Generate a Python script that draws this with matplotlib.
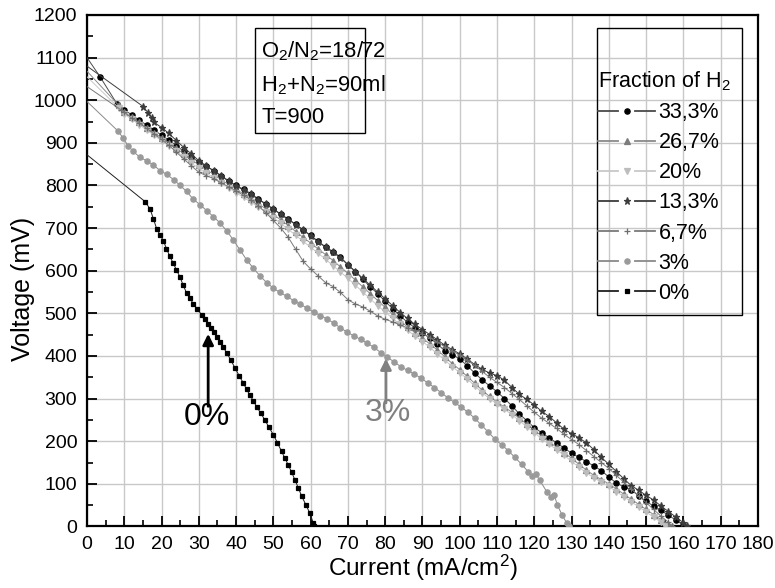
import matplotlib
matplotlib.use('Agg')
import matplotlib.pyplot as plt
from matplotlib.lines import Line2D
from matplotlib.patches import Rectangle
from matplotlib.ticker import MultipleLocator
from matplotlib.legend_handler import HandlerBase

plt.rcParams['font.family'] = 'Liberation Sans'
plt.rcParams['mathtext.fontset'] = 'custom'
plt.rcParams['mathtext.rm'] = 'Liberation Sans'
plt.rcParams['mathtext.it'] = 'Liberation Sans:italic'

# current density points shared by the H2-rich runs (mA/cm2)
i_grid = [10, 12, 14, 16, 18, 20, 22, 24, 26, 28, 30, 32, 34, 36, 38, 40, 42, 44, 46, 48,
          50, 52, 54, 56, 58, 60, 62, 64, 66, 68, 70, 72, 74, 76, 78, 80, 82, 84, 86, 88,
          90, 92, 94, 96, 98, 100, 102, 104, 106, 108, 110, 112, 114, 116, 118, 120, 122, 124, 126, 128,
          130, 132, 134, 136, 138, 140, 142, 144, 146, 148, 150, 152, 154, 156, 158, 160]

# 33,3 % H2
i_333 = [0, 3.5, 8] + i_grid
v_333 = [1100, 1055, 992,
         977, 966, 953, 942, 930, 918, 906, 893, 880, 867, 855, 845, 835, 823, 811, 800, 791, 781, 768, 757,
         745, 733, 721, 709, 696, 683, 669, 656, 645, 632, 614, 598, 580, 562, 546, 528, 511, 494, 479, 466,
         454, 442, 428, 412, 403, 393, 377, 360, 344, 330, 316, 300, 283, 264, 248, 232, 220, 208, 196, 184,
         172, 162, 152, 142, 131, 116, 102, 93, 86, 72, 59, 48, 38, 26, 15, 3]

# 26,7 % H2
i_267 = [0, 8.5] + i_grid[:74] + [157]
v_267 = [1068, 988,
         972, 960, 948, 936, 924, 912, 900, 887, 874, 861,
         848, 837, 826, 814, 802, 791, 780, 769, 757, 745,
         732, 719, 706, 692, 678, 665, 651, 638, 624, 609,
         594, 578, 562, 546, 530, 514, 498, 483, 468, 455,
         442, 428, 414, 398, 382, 368, 352, 336, 320, 305,
         292, 280, 268, 254, 240, 226, 212, 198, 186, 173,
         160, 146, 132, 120, 110, 100, 88, 76, 64, 52,
         40, 28, 16, 5, 0]

# 20 % H2
i_20 = [0, 8.5] + i_grid[:73] + [155]
v_20 = [1055, 982,
        968, 955, 943, 930, 918, 905, 893, 880, 867, 853,
        840, 829, 818, 806, 794, 783, 772, 761, 749, 737,
        724, 711, 697, 683, 669, 655, 641, 627, 612, 597,
        582, 566, 550, 534, 518, 503, 488, 474, 460, 447,
        434, 420, 405, 390, 375, 361, 346, 330, 314, 300,
        287, 275, 262, 248, 234, 220, 206, 193, 180, 167,
        153, 139, 126, 114, 104, 94, 82, 70, 58, 46,
        34, 22, 10, 0]

# 13,3 % H2
i_133 = [0, 15.1, 16.4, 17.5] + i_grid[4:] + [161]
v_133 = [1080, 985, 970, 958,
         948, 936, 922, 905, 889, 874, 858, 846, 834, 822, 810, 799, 789, 779, 767, 756,
         744, 732, 720, 708, 695, 682, 668, 655, 643, 630, 614, 598, 582, 566, 550, 534,
         518, 502, 488, 474, 462, 450, 438, 425, 415, 405, 393, 380, 369, 360, 354, 343,
         326, 310, 298, 285, 270, 258, 243, 228, 218, 208, 196, 180, 162, 146, 129, 112,
         96, 85, 73, 62, 48, 35, 22, 9, 0]

# 6,7 % H2
i_67 = [0, 9] + i_grid[:74] + [157]
v_67 = [1032, 978,
        972, 958, 946, 934, 921, 908, 894, 878, 862, 846,
        831, 823, 816, 806, 797, 787, 777, 766, 752, 736,
        718, 700, 678, 650, 622, 604, 588, 572, 563, 549,
        532, 522, 515, 505, 494, 486, 480, 473, 466, 461,
        452, 443, 432, 422, 412, 402, 390, 378, 364, 350,
        338, 326, 312, 298, 283, 268, 254, 242, 230, 216,
        204, 192, 178, 164, 150, 136, 120, 104, 88, 72,
        56, 40, 24, 10, 0]

# 3 % H2
i_3 = [0, 8.4, 9.7, 11.1, 12.4, 14.2, 16, 17.8, 19.6, 21.4, 23.2, 25, 26.7, 28.5, 30.3,
       32.1, 33.9, 35.7, 37.5, 39.2, 41, 42.8, 44.6, 46.4, 48.2, 50, 51.8, 53.6, 55.4, 57.2,
       59, 60.8, 62.6, 64.4, 66.2, 68, 69.8, 71.6, 73.4, 75.2, 77, 78.8, 80.6, 82.4, 84.2,
       86, 87.8, 89.6, 91.4, 93.2, 95, 96.8, 98.6, 100.4, 102.2, 104, 105.8, 107.6, 109.4, 111.2,
       113, 114.8, 116.6, 118.4, 119.5, 120.5, 121.5, 123.3, 124.5, 125.3, 126.2, 127.4, 128.7, 129.3]
v_3 = [997, 927, 911, 892, 880, 866, 858, 848, 835, 826, 814, 800, 786, 768, 755,
       741, 727, 712, 693, 673, 649, 626, 606, 588, 572, 559, 549, 540, 530, 522,
       512, 503, 495, 487, 477, 466, 456, 447, 439, 430, 420, 408, 397, 386, 375,
       366, 358, 348, 337, 326, 314, 302, 291, 280, 268, 254, 238, 222, 205, 192,
       178, 162, 146, 128, 118, 122, 108, 82, 70, 75, 50, 28, 8, 0]

# 0 % H2
i_0 = [0, 15.6, 16.9, 17.8, 18.7, 19.6, 20.5, 21.3, 22.2, 23.1, 24, 24.9, 25.8, 26.7, 27.6,
       28.5, 29.6, 30.8, 31.7, 32.5, 33.3, 34.1, 34.9, 35.7, 36.6, 37.5, 38.6, 39.7, 40.8, 41.9,
       42.8, 43.7, 44.6, 45.5, 46.6, 47.7, 48.8, 50, 51.1, 52.2, 53.1, 54, 54.9, 55.8, 56.7,
       57.6, 58.7, 59.8, 60.7, 61]
v_0 = [872, 762, 745, 722, 698, 684, 670, 652, 634, 618, 602, 586, 566, 548, 535,
       523, 510, 496, 486, 476, 466, 456, 445, 434, 420, 407, 390, 372, 354, 337,
       322, 308, 295, 281, 266, 250, 233, 215, 196, 176, 160, 144, 127, 109, 90,
       71, 51, 31, 8, 0]

labels = ['33,3%', '26,7%', '20%', '13,3%', '6,7%', '3%', '0%']
currents = [i_333, i_267, i_20, i_133, i_67, i_3, i_0]
voltages = [v_333, v_267, v_20, v_133, v_67, v_3, v_0]

# marker, marker colour, line colour, marker size
styles = [
    ('o', '#000000', '#4a4a4a', 3.8),
    ('^', '#7c7c7c', '#8a8a8a', 4.0),
    ('v', '#bdbdbd', '#c8c8c8', 4.0),
    ('*', '#3c3c3c', '#3c3c3c', 5.2),
    ('+', '#6e6e6e', '#7a7a7a', 4.2),
    ('o', '#9a9a9a', '#8a8a8a', 3.8),
    ('s', '#000000', '#202020', 3.5),
]


class GapLineHandler(HandlerBase):
    """Legend key drawn as  line - marker - line  with a gap round the marker."""

    def create_artists(self, legend, orig, xdescent, ydescent, width, height, fontsize, trans):
        y = (height - ydescent) / 2
        x0, x1 = -xdescent, -xdescent + width
        xm = (x0 + x1) / 2
        gap = 0.15 * width
        style = dict(color=orig.get_color(), lw=orig.get_linewidth())
        left = Line2D([x0, xm - gap], [y, y], **style)
        right = Line2D([xm + gap, x1], [y, y], **style)
        mark = Line2D([xm], [y], ls='none', marker=orig.get_marker(), ms=orig.get_markersize(),
                      mfc=orig.get_markerfacecolor(), mec=orig.get_markeredgecolor(),
                      mew=orig.get_markeredgewidth())
        for a in (left, right, mark):
            a.set_transform(trans)
        return [left, right, mark]


fig = plt.figure(figsize=(7.75, 5.88), dpi=100)
ax = fig.add_axes([0.1123, 0.1046, 0.8657, 0.8699])

# draw lower-fraction curves first so the richer ones sit on top
draw_order = [6, 5, 4, 2, 1, 3, 0]
for k in draw_order:
    m, mc, lc, ms = styles[k]
    ax.plot(currents[k], voltages[k], color=lc, lw=0.7, marker=m, ms=ms,
            mfc=mc, mec=mc, mew=0.9, markevery=slice(1, None), zorder=3 + k * 0.01)

ax.set_xlim(0, 180)
ax.set_ylim(0, 1200)
ax.xaxis.set_major_locator(MultipleLocator(10))
ax.xaxis.set_minor_locator(MultipleLocator(5))
ax.yaxis.set_major_locator(MultipleLocator(100))
ax.yaxis.set_minor_locator(MultipleLocator(50))
ax.tick_params(which='major', direction='in', length=7, width=1.3, labelsize=14, pad=7)
ax.tick_params(which='minor', direction='in', length=4, width=1.2)
ax.tick_params(axis='y', which='both', pad=7)
ax.grid(True, which='major', color='#c8c8c8', lw=1.0)
ax.set_axisbelow(True)
for s in ax.spines.values():
    s.set_linewidth(1.6)

ax.set_xlabel('Current (mA/cm$^2$)', fontsize=17.5, labelpad=0)
ax.set_ylabel('Voltage (mV)', fontsize=18)
ax.yaxis.set_label_coords(-0.077, 0.465)

# condition box
ax.add_patch(Rectangle((45.1, 924), 29.5, 246, fill=False, ec='black', lw=1.0, zorder=5))
ax.text(46.7, 1114, 'O$_2$/N$_2$=18/72', fontsize=15.8, va='center', zorder=6)
ax.text(46.7, 1036, 'H$_2$+N$_2$=90ml', fontsize=15.8, va='center', zorder=6)
ax.text(46.7, 959, 'T=900', fontsize=15.8, va='center', zorder=6)

# arrows pointing at the 0 % and 3 % curves
ax.annotate('', xy=(32.5, 452), xytext=(32.5, 282),
            arrowprops=dict(arrowstyle='-|>', color='black', lw=2.0, mutation_scale=16,
                            shrinkA=0, shrinkB=0), zorder=7)
ax.text(32.1, 258, '0%', fontsize=23, ha='center', va='center', zorder=7)
ax.annotate('', xy=(80.2, 394), xytext=(80.2, 290),
            arrowprops=dict(arrowstyle='-|>', color='#808080', lw=2.0, mutation_scale=16,
                            shrinkA=0, shrinkB=0), zorder=7)
ax.text(80.8, 266, '3%', fontsize=23, color='#808080', ha='center', va='center', zorder=7)

# legend with its own frame
handles = []
for k in range(len(labels)):
    m, mc, lc, ms = styles[k]
    handles.append(Line2D([], [], color=lc, lw=1.3, marker=m, ms=ms, mfc=mc, mec=mc, mew=0.9))
ax.add_patch(Rectangle((0.760, 0.4135), 0.216, 0.561, transform=ax.transAxes,
                       fill=False, ec='black', lw=1.0, zorder=5))
leg = ax.legend(handles, labels, frameon=False, title='Fraction of H$_2$', loc='upper left',
                bbox_to_anchor=(0.762, 0.893), fontsize=15.5, title_fontsize=15.5, alignment='left',
                handlelength=2.65, handletextpad=0.15, labelspacing=0.42, numpoints=1,
                borderaxespad=0, borderpad=0, handler_map={Line2D: GapLineHandler()})
leg.set_zorder(6)

fig.savefig('out.png', dpi=100)
